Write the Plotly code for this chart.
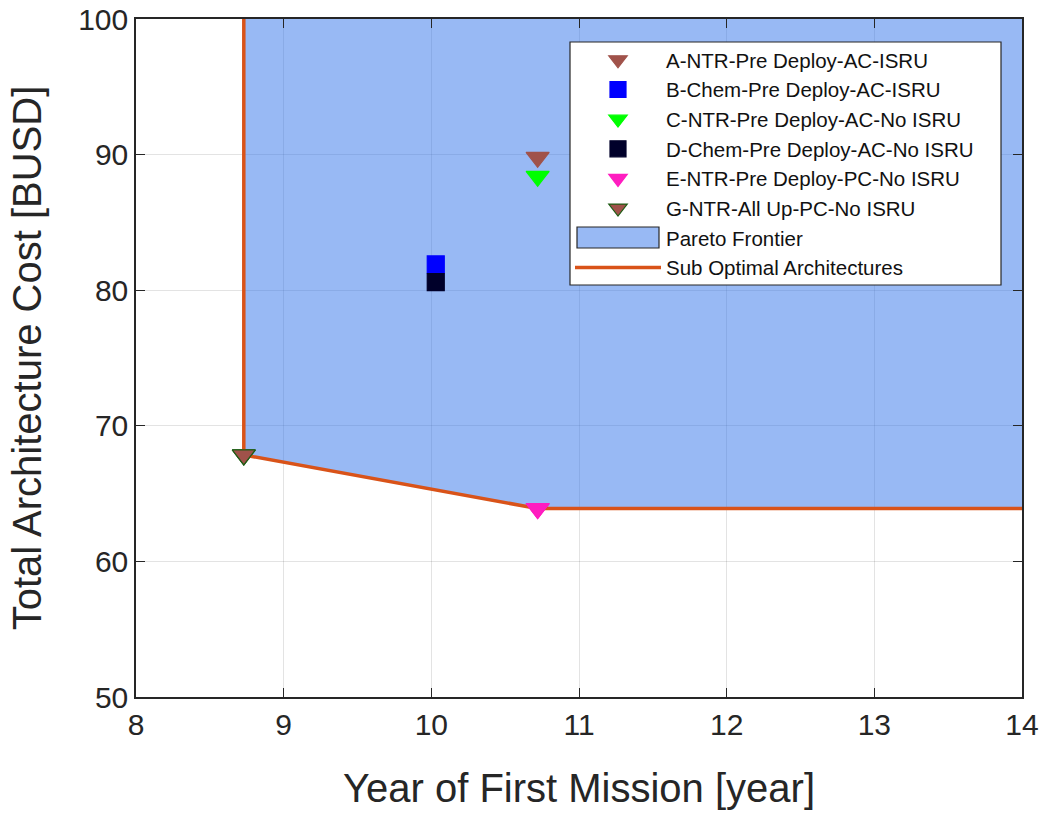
import plotly.graph_objects as go

# Architecture results: year of first mission vs. total cost
names = [
    "A-NTR-Pre Deploy-AC-ISRU",
    "B-Chem-Pre Deploy-AC-ISRU",
    "C-NTR-Pre Deploy-AC-No ISRU",
    "D-Chem-Pre Deploy-AC-No ISRU",
    "E-NTR-Pre Deploy-PC-No ISRU",
    "G-NTR-All Up-PC-No ISRU",
]
years = [10.72, 10.03, 10.72, 10.03, 10.72, 8.73]
costs = [89.8, 81.9, 88.4, 80.6, 63.9, 67.85]
symbols = ["triangle-down", "square", "triangle-down", "square", "triangle-down", "triangle-down"]
fills = ["#A0524A", "#0000FF", "#00FF00", "#00002A", "#FF1DC0", "#A0524A"]
edges = ["#A0524A", "#0000FF", "#00FF00", "#00002A", "#FF1DC0", "#1E5C14"]

# Frontier outline (dominated region above it)
front_x = [8.73, 8.73, 10.72, 14.0]
front_y = [100.0, 67.85, 63.9, 63.9]

fig = go.Figure()

# Shaded Pareto region
fig.add_trace(go.Scatter(
    x=front_x + [14.0, 8.73],
    y=front_y + [100.0, 100.0],
    mode="lines",
    fill="toself",
    fillcolor="rgba(49,115,233,0.5)",
    line=dict(width=0, color="rgba(0,0,0,0)"),
    showlegend=False,
    hoverinfo="skip",
))

for n, x, y, s, f, e in zip(names, years, costs, symbols, fills, edges):
    fig.add_trace(go.Scatter(
        x=[x], y=[y], mode="markers", name=n,
        marker=dict(symbol=s, size=17 if s == "square" else 20, color=f,
                    line=dict(color=e, width=1.2)),
    ))

# Legend entry for the shaded region; its swatch is drawn as a shape
fig.add_trace(go.Scatter(
    x=[None], y=[None], mode="lines",
    line=dict(color="rgba(0,0,0,0)", width=0),
    name="Pareto Frontier",
))

fig.add_trace(go.Scatter(
    x=front_x, y=front_y, mode="lines",
    line=dict(color="#D95319", width=3.5),
    name="Sub Optimal Architectures",
))

# Markers sitting on the frontier are drawn above the line
for i in (5, 4):
    fig.add_trace(go.Scatter(
        x=[years[i]], y=[costs[i]], mode="markers", showlegend=False,
        marker=dict(symbol="triangle-down", size=20, color=fills[i],
                    line=dict(color=edges[i], width=1.2)),
    ))

axis_common = dict(
    showline=True, linecolor="#262626", linewidth=1.5, mirror="ticks",
    ticks="inside", ticklen=9, tickcolor="#262626", tickwidth=1.2,
    showgrid=True, gridcolor="rgba(0,0,0,0.11)", gridwidth=1.2,
    zeroline=False,
    tickfont=dict(family="Liberation Sans, Arial", size=30, color="#262626"),
)

# Pixel helpers for the legend frame (plot area spans 136..1022 x 19..697)
def px_x(p):
    return (p - 136) / 886.0

def px_y(p):
    return 1 - (p - 19) / 678.0

shapes = [
    # legend frame
    dict(type="rect", xref="paper", yref="paper",
         x0=px_x(570), x1=px_x(1001), y0=px_y(285), y1=px_y(42),
         fillcolor="white", line=dict(color="#262626", width=1.2), layer="above"),
    # Pareto Frontier swatch
    dict(type="rect", xref="paper", yref="paper",
         x0=px_x(577), x1=px_x(659), y0=px_y(248), y1=px_y(227),
         fillcolor="#98B9F4", line=dict(color="#262626", width=1.2), layer="above"),
]

fig.update_layout(
    width=1048, height=813,
    margin=dict(l=136, r=26, t=19, b=116, autoexpand=False),
    paper_bgcolor="white", plot_bgcolor="white",
    font=dict(family="Liberation Sans, Arial", color="#262626"),
    xaxis=dict(range=[8, 14], dtick=1,
               title=dict(text="Year of First Mission [year]", font=dict(size=40), standoff=34),
               **axis_common),
    yaxis=dict(range=[50, 100], dtick=10,
               title=dict(text="Total Architecture Cost [BUSD]", font=dict(size=40), standoff=24),
               **axis_common),
    legend=dict(
        x=px_x(570), y=px_y(40), xanchor="left", yanchor="top",
        bgcolor="rgba(0,0,0,0)", borderwidth=0,
        font=dict(size=20.5, color="#111111"),
        itemwidth=86, tracegroupgap=0,
    ),
    shapes=shapes,
    showlegend=True,
)

fig.write_html("out.html")
